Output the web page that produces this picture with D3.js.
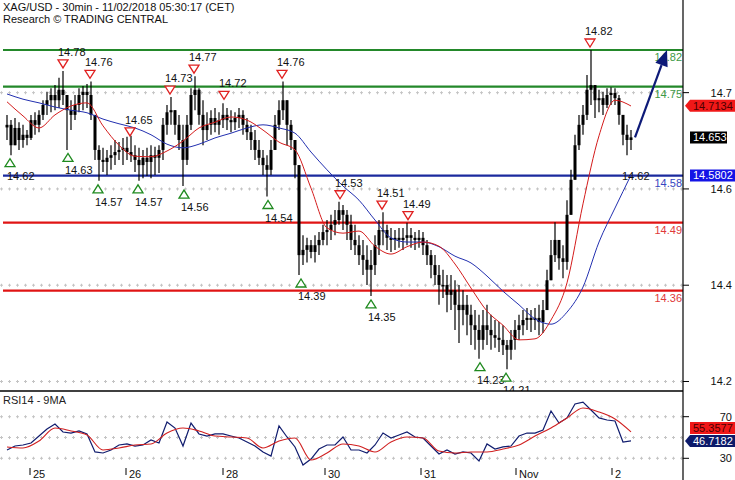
<!DOCTYPE html>
<html><head><meta charset="utf-8">
<script src="https://cdn.jsdelivr.net/npm/d3@7"></script>
<style>body{margin:0;background:#fff}svg{display:block;font-family:Arial,"Liberation Sans",sans-serif}</style>
</head><body><svg id="c" width="735" height="480"></svg>
<script>
// hourly bars (high / low / close), open = previous close
const high=[14.696,14.686,14.690,14.682,14.677,14.667,14.696,14.701,14.705,14.724,
14.740,14.747,14.753,14.767,14.780,14.734,14.724,14.734,14.747,14.751,
14.755,14.760,14.696,14.638,14.633,14.629,14.638,14.648,14.644,14.652,
14.654,14.656,14.638,14.633,14.629,14.633,14.638,14.635,14.638,14.690,
14.715,14.730,14.705,14.696,14.677,14.696,14.747,14.770,14.747,14.724,
14.701,14.705,14.709,14.701,14.718,14.709,14.705,14.701,14.709,14.705,
14.690,14.677,14.667,14.648,14.629,14.619,14.648,14.696,14.724,14.760,
14.724,14.686,14.648,14.600,14.466,14.461,14.457,14.466,14.472,14.486,
14.495,14.505,14.514,14.530,14.524,14.514,14.505,14.486,14.466,14.457,
14.447,14.438,14.466,14.495,14.510,14.486,14.480,14.476,14.480,14.480,
14.490,14.480,14.472,14.476,14.472,14.457,14.438,14.428,14.409,14.400,
14.390,14.390,14.380,14.371,14.361,14.352,14.333,14.323,14.314,14.323,
14.333,14.314,14.304,14.300,14.294,14.266,14.285,14.304,14.314,14.323,
14.327,14.323,14.327,14.333,14.342,14.400,14.457,14.491,14.457,14.447,
14.533,14.591,14.658,14.696,14.715,14.772,14.820,14.753,14.744,14.740,
14.747,14.749,14.747,14.734,14.696,14.677,14.667];
const low=[14.648,14.619,14.638,14.629,14.633,14.638,14.648,14.658,14.663,14.686,
14.696,14.701,14.705,14.709,14.715,14.629,14.667,14.686,14.701,14.705,
14.709,14.686,14.610,14.570,14.587,14.581,14.591,14.600,14.610,14.600,
14.610,14.606,14.587,14.570,14.575,14.579,14.575,14.581,14.585,14.610,
14.658,14.677,14.658,14.629,14.560,14.600,14.667,14.705,14.677,14.638,
14.648,14.658,14.663,14.658,14.671,14.667,14.663,14.667,14.671,14.658,
14.648,14.629,14.610,14.600,14.581,14.540,14.581,14.629,14.667,14.686,
14.638,14.629,14.575,14.390,14.409,14.414,14.422,14.414,14.428,14.447,
14.447,14.457,14.466,14.486,14.476,14.457,14.438,14.428,14.409,14.390,
14.371,14.350,14.390,14.428,14.447,14.438,14.434,14.438,14.442,14.438,
14.447,14.442,14.438,14.442,14.428,14.409,14.384,14.371,14.333,14.346,
14.319,14.323,14.285,14.260,14.294,14.275,14.256,14.247,14.230,14.247,
14.256,14.247,14.251,14.243,14.237,14.210,14.228,14.247,14.266,14.275,
14.285,14.281,14.285,14.275,14.279,14.323,14.380,14.415,14.400,14.384,
14.400,14.505,14.572,14.629,14.658,14.686,14.715,14.690,14.701,14.696,
14.709,14.715,14.715,14.677,14.638,14.619,14.629];
const close=[14.677,14.638,14.671,14.648,14.658,14.652,14.686,14.677,14.696,14.715,
14.724,14.734,14.724,14.744,14.734,14.705,14.696,14.715,14.734,14.740,
14.734,14.696,14.629,14.610,14.606,14.614,14.619,14.625,14.629,14.633,
14.625,14.619,14.610,14.600,14.614,14.606,14.619,14.614,14.629,14.677,
14.701,14.705,14.677,14.648,14.610,14.677,14.734,14.744,14.696,14.667,
14.677,14.690,14.677,14.686,14.696,14.686,14.682,14.690,14.696,14.677,
14.663,14.648,14.629,14.614,14.600,14.591,14.629,14.677,14.705,14.724,
14.677,14.648,14.600,14.428,14.438,14.447,14.434,14.447,14.457,14.472,
14.476,14.486,14.495,14.514,14.505,14.486,14.457,14.447,14.428,14.419,
14.400,14.409,14.447,14.476,14.476,14.461,14.457,14.461,14.457,14.461,
14.466,14.461,14.457,14.461,14.447,14.428,14.409,14.390,14.371,14.371,
14.352,14.361,14.333,14.323,14.333,14.314,14.294,14.285,14.266,14.294,
14.285,14.275,14.270,14.266,14.256,14.247,14.266,14.285,14.294,14.304,
14.308,14.304,14.308,14.300,14.323,14.380,14.428,14.457,14.422,14.415,
14.505,14.572,14.638,14.677,14.696,14.744,14.753,14.724,14.728,14.715,
14.734,14.738,14.728,14.696,14.658,14.648,14.653];
// moving averages, one value every 4 bars
const maFast=[14.721,14.694,14.671,14.696,14.713,14.719,14.675,14.638,14.617,14.616,
14.627,14.646,14.671,14.682,14.692,14.686,14.667,14.644,14.629,14.556,
14.480,14.470,14.474,14.445,14.430,14.444,14.453,14.445,14.411,14.365,
14.321,14.294,14.266,14.268,14.304,14.375,14.526,14.656,14.724,14.713];
const maSlow=[14.736,14.726,14.719,14.711,14.705,14.700,14.688,14.679,14.671,14.658,
14.640,14.633,14.640,14.652,14.661,14.671,14.677,14.671,14.661,14.625,
14.591,14.560,14.533,14.495,14.461,14.453,14.453,14.444,14.426,14.413,
14.388,14.359,14.333,14.306,14.296,14.319,14.367,14.453,14.518,14.581];
// RSI14 every 2 bars, its 9MA every 4 bars
const rsi=[38.0,41.8,42.8,44.7,51.4,58.2,63.0,55.3,54.3,56.3,
53.4,36.1,35.1,38.0,42.8,43.8,41.8,42.8,47.6,44.7,
64.9,59.1,41.8,63.9,53.4,51.4,53.4,53.4,51.4,49.5,
45.7,41.8,36.1,32.2,61.1,50.5,40.9,23.6,29.3,38.9,
42.8,42.8,50.5,38.0,38.0,35.1,42.8,54.3,49.5,52.4,
55.3,50.5,49.5,41.8,34.1,38.0,34.1,36.1,35.1,27.4,
43.8,38.9,40.9,41.8,51.4,54.3,54.3,57.2,75.5,63.9,
68.8,82.2,84.0,76.4,68.8,66.8,65.9,45.7,46.7];
const rsiMa=[40.9,39.9,46.6,59.1,56.3,52.4,38.0,39.9,42.8,43.8,
54.3,59.1,56.3,51.4,50.5,49.5,39.9,46.6,49.5,28.4,
35.1,43.8,41.8,36.1,45.7,50.5,49.5,37.0,35.1,36.1,
36.1,38.9,42.8,51.4,59.1,68.8,78.4,74.5,67.8,55.4];
// key levels
const levelValues=[14.82,14.75,14.58,14.49,14.36];
const levelColors=["#23882a","#23882a","#1b2a9e","#e01414","#e01414"];
const levelTextColors=["#3d9a45","#3d9a45","#3646c0","#e03a3a","#e03a3a"];
// swing highs / lows [bar index, price]
const highMarks=[[14,14.78],[20.75,14.76],[30.75,14.65],[40.75,14.73],[46.75,14.77],[54.25,14.72],[68.75,14.76],[83.25,14.53],[93.75,14.51],[100.25,14.49],[145.75,14.82]];
const lowMarks=[[0.75,14.62],[15.25,14.63],[22.75,14.57],[32.75,14.57],[44.25,14.56],[65.25,14.54],[73.5,14.39],[91,14.35],[118.25,14.23],[124.75,14.21]];
const extraLow=[154.5,14.62];
// axes
const priceTicks=[14.7385,14.5545,14.3705,14.1865];
const rsiGrid=[70,50,30], rsiTicks=[70,30];
const dayTicks=[5.75,29.75,54,79.5,103.5,127.25,151.25];
const dayLabels=["25","26","28","30","31","Nov","2"];
// last values
const lastPrice=14.653, lastBid=14.7134, pivotTag=14.5802, rsiLast=46.7182, rsiMaLast=55.3577;
const forecast=[[157,14.653],[165,14.82]];

const svg=d3.select("#c");
const R=683;
const x=d3.scaleLinear().domain([0,156]).range([7,631]);
const y=d3.scaleLinear().domain([14.36,14.82]).range([290.7,50]);
const yR=d3.scaleLinear().domain([30,70]).range([458.3,416.7]);

function grid(g,yy){
  g.append("line").attr("x1",0).attr("x2",R).attr("y1",yy).attr("y2",yy)
   .attr("stroke","#c4c4c4").attr("stroke-width",1).attr("stroke-dasharray","3 5");
  g.append("line").attr("x1",1).attr("x2",R).attr("y1",yy).attr("y2",yy)
   .attr("stroke","#c4c4c4").attr("stroke-width",3).attr("stroke-dasharray","1 7");
}
// header
svg.append("text").attr("x",3).attr("y",11).attr("font-size",11).attr("fill","#111")
  .text("XAG/USD - 30min - 11/02/2018 05:30:17 (CET)");
svg.append("text").attr("x",3).attr("y",22.5).attr("font-size",11).attr("fill","#111")
  .text("Research \u00A9 TRADING CENTRAL");

const gP=svg.append("g");
priceTicks.forEach(t=>grid(gP,y(t)));
// levels
levelValues.forEach((v,i)=>{
  gP.append("line").attr("x1",3).attr("x2",R).attr("y1",y(v)).attr("y2",y(v))
    .attr("stroke",levelColors[i]).attr("stroke-width",2.2);
  gP.append("text").attr("x",R-1).attr("y",y(v)+11).attr("text-anchor","end")
    .attr("font-size",11).attr("fill",levelTextColors[i]).text(v.toFixed(2));
});
// candles
const bars=high.map((h,i)=>({i,h,l:low[i],c:close[i],o:i?close[i-1]:(h+low[i])/2}));
gP.selectAll(".wk").data(bars).join("line")
  .attr("x1",d=>x(d.i)).attr("x2",d=>x(d.i)).attr("y1",d=>y(d.h)).attr("y2",d=>y(d.l))
  .attr("stroke","#000").attr("stroke-width",1.2);
gP.selectAll(".bd").data(bars).join("rect")
  .attr("x",d=>x(d.i)-1.5).attr("width",3)
  .attr("y",d=>Math.min(y(d.o),y(d.c))).attr("height",d=>Math.max(1.5,Math.abs(y(d.o)-y(d.c))))
  .attr("fill","#000");
// MAs
const maLine=d3.line().x((d,i)=>x(i*4)).y(d=>y(d)).curve(d3.curveMonotoneX);
gP.append("path").attr("d",maLine(maSlow)).attr("fill","none").attr("stroke","#2330b0").attr("stroke-width",1);
gP.append("path").attr("d",maLine(maFast)).attr("fill","none").attr("stroke","#d41c1c").attr("stroke-width",1);
// markers
highMarks.forEach(([k,v])=>{
  const tx=x(k), ty=y(v);
  gP.append("path").attr("d",`M${tx-5},${ty-11}L${tx+5},${ty-11}L${tx},${ty-3}Z`)
    .attr("fill","#fff").attr("stroke","#e02020").attr("stroke-width",1.3);
  gP.append("text").attr("x",tx-5).attr("y",ty-15).attr("font-size",11).attr("fill","#111").text(v.toFixed(2));
});
lowMarks.forEach(([k,v])=>{
  const tx=x(k), ty=y(v);
  gP.append("path").attr("d",`M${tx-5},${ty+12}L${tx+5},${ty+12}L${tx},${ty+4}Z`)
    .attr("fill","#fff").attr("stroke","#1f8a1f").attr("stroke-width",1.3);
  gP.append("text").attr("x",tx-3).attr("y",ty+25).attr("font-size",11).attr("fill","#111").text(v.toFixed(2));
});
gP.append("text").attr("x",x(extraLow[0])-3).attr("y",y(extraLow[1])+25).attr("font-size",11).attr("fill","#111").text(extraLow[1].toFixed(2));
// forecast arrow
{
  const p0=[x(forecast[0][0]),y(forecast[0][1])], p1=[x(forecast[1][0]),y(forecast[1][1])];
  const a=Math.atan2(p1[1]-p0[1],p1[0]-p0[0]);
  const L=16,Wd=6.5;
  const b=[p1[0]-L*Math.cos(a),p1[1]-L*Math.sin(a)];
  gP.append("line").attr("x1",p0[0]).attr("y1",p0[1]).attr("x2",b[0]).attr("y2",b[1])
    .attr("stroke","#0d1a78").attr("stroke-width",2.2);
  const px=-Math.sin(a),py=Math.cos(a);
  gP.append("path").attr("d",`M${p1[0]},${p1[1]}L${b[0]+px*Wd},${b[1]+py*Wd}L${b[0]-px*Wd},${b[1]-py*Wd}Z`).attr("fill","#0d1a78");
}

// RSI panel
const gR=svg.append("g");
gR.append("rect").attr("x",0).attr("y",391).attr("width",R).attr("height",89).attr("fill","#fff");
gR.append("line").attr("x1",0).attr("x2",R).attr("y1",391).attr("y2",391).attr("stroke","#000").attr("stroke-width",1.6);
rsiGrid.forEach(t=>grid(gR,yR(t)));
gR.append("text").attr("x",3).attr("y",403.5).attr("font-size",11).attr("fill","#222").text("RSI14 - 9MA");
gR.append("path").attr("d",d3.line().x((d,i)=>x(i*2)).y(d=>yR(d))(rsi)).attr("fill","none").attr("stroke","#101c6e").attr("stroke-width",1.2);
gR.append("path").attr("d",d3.line().x((d,i)=>x(i*4)).y(d=>yR(d)).curve(d3.curveMonotoneX)(rsiMa)).attr("fill","none").attr("stroke","#d02020").attr("stroke-width",1.1);

// right axis
svg.append("line").attr("x1",R).attr("x2",R).attr("y1",0).attr("y2",480).attr("stroke","#000").attr("stroke-width",1.2);
priceTicks.forEach(t=>{
  svg.append("line").attr("x1",R).attr("x2",R+6).attr("y1",y(t)).attr("y2",y(t)).attr("stroke","#000");
  svg.append("text").attr("x",732).attr("y",y(t)+4).attr("text-anchor","end").attr("font-size",11).attr("fill","#111").text(d3.format(".1f")(t));
});
rsiTicks.forEach(t=>{
  svg.append("line").attr("x1",R).attr("x2",R+6).attr("y1",yR(t)).attr("y2",yR(t)).attr("stroke","#000");
  svg.append("text").attr("x",732).attr("y",yR(t)+4).attr("text-anchor","end").attr("font-size",11).attr("fill","#111").text(t);
});
// bottom axis
dayTicks.forEach((t,i)=>{
  svg.append("line").attr("x1",x(t)).attr("x2",x(t)).attr("y1",468).attr("y2",475).attr("stroke","#000");
  svg.append("text").attr("x",x(t)+3).attr("y",478).attr("font-size",11).attr("fill","#111").text(dayLabels[i]);
});

// value tags
function tag(v,yy,fill,txt,arrow,w,x0){
  const h=12, xl=x0||690, xr=xl+w;
  let d;
  if(arrow) d=`M${R+2},${yy}L${xl},${yy-h/2}L${xr},${yy-h/2}L${xr},${yy+h/2}L${xl},${yy+h/2}Z`;
  else d=`M${xl},${yy-h/2}L${xr},${yy-h/2}L${xr},${yy+h/2}L${xl},${yy+h/2}Z`;
  svg.append("path").attr("d",d).attr("fill",fill);
  svg.append("text").attr("x",xl+3).attr("y",yy+4).attr("font-size",11).attr("fill",txt).text(v);
}
tag(lastBid,y(lastBid),"#f01818","#4a0000",true,45);
tag(lastPrice,y(lastPrice),"#000","#fff",false,37);
tag(pivotTag,y(pivotTag),"#1414e6","#fff",false,45);
const yNavy=yR(rsiLast);
tag(rsiLast,yNavy,"#0c1a6a","#fff",true,45);
tag(rsiMaLast,Math.min(yR(rsiMaLast),yNavy-13),"#f01818","#4a0000",false,45);
</script></body></html>
